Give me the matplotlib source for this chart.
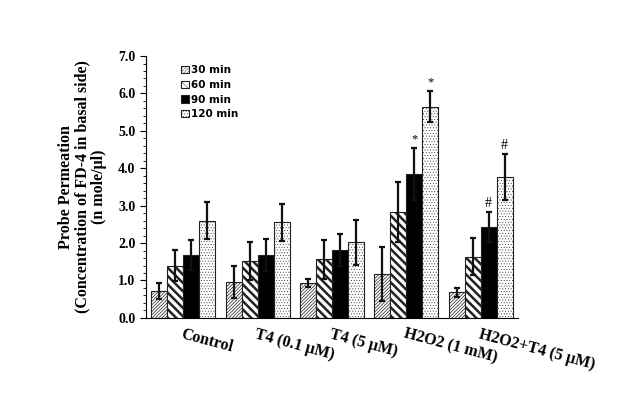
import matplotlib
matplotlib.use('Agg')
import matplotlib.pyplot as plt
import numpy as np
from matplotlib.ticker import MultipleLocator, FormatStrFormatter

groups = ['Control', 'T4 (0.1 \u03bcM)', 'T4 (5 \u03bcM)', 'H2O2 (1 mM)', 'H2O2+T4 (5 \u03bcM)']
times = ['30 min', '60 min', '90 min', '120 min']

# means per time point, one value per group
m30 = [0.72, 0.96, 0.93, 1.17, 0.68]
m60 = [1.40, 1.52, 1.57, 2.82, 1.64]
m90 = [1.68, 1.68, 1.82, 3.85, 2.42]
m120 = [2.60, 2.55, 2.02, 5.65, 3.76]

e30 = [0.21, 0.42, 0.10, 0.72, 0.13]
e60 = [0.41, 0.52, 0.52, 0.80, 0.50]
e90 = [0.41, 0.42, 0.43, 0.70, 0.40]
e120 = [0.50, 0.50, 0.60, 0.42, 0.61]

marks = [(3, 2, '*'), (3, 3, '*'), (4, 2, '#'), (4, 3, '#')]

means = [m30, m60, m90, m120]
errs = [e30, e60, e90, e120]
styles = [
    dict(hatch='//////////', hc='#666666', hlw=0.5, fc='white'),
    dict(hatch='\\\\\\\\', hc='black', hlw=1.8, fc='white'),
    dict(hatch='', hc='black', hlw=1.0, fc='black'),
    dict(hatch='......', hc='#777777', hlw=0.3, fc='white'),
]

plt.rcParams['font.family'] = 'Liberation Serif'
plt.rcParams['font.weight'] = 'bold'

fig = plt.figure(figsize=(6.21, 4.15), dpi=100)
ax = fig.add_axes([0.235, 0.234, 0.599, 0.631])

x = np.arange(len(groups))
w = 0.215
containers = []
for i in range(4):
    pos = x + (i - 1.5) * w
    st = styles[i]
    plt.rcParams['hatch.color'] = st['hc']
    plt.rcParams['hatch.linewidth'] = st['hlw']
    bars = ax.bar(pos, means[i], w, color=st['fc'], edgecolor='#222222',
                  linewidth=0.8, hatch=st['hatch'], label=times[i])
    for b in bars:
        if hasattr(b, 'set_hatch_linewidth'):
            b.set_hatch_linewidth(st['hlw'])
    containers.append(bars)
    ax.errorbar(pos, means[i], yerr=errs[i], fmt='none', ecolor='#111111',
                elinewidth=1.6, capsize=2.5, capthick=1.6)

for g, t, s in marks:
    px = x[g] + (t - 1.5) * w
    top = means[t][g] + errs[t][g]
    ax.text(px, top + 0.06, s, ha='center', va='bottom',
            fontsize=9 if s == '*' else 10, fontweight='normal')

ax.set_xlim(-0.5, 4.5)
ax.set_ylim(0, 7)
ax.yaxis.set_major_locator(MultipleLocator(1))
ax.yaxis.set_minor_locator(MultipleLocator(0.2))
ax.yaxis.set_major_formatter(FormatStrFormatter('%.1f'))
ax.tick_params(axis='y', which='major', length=4, labelsize=10)
ax.tick_params(axis='y', which='minor', length=2)
ax.set_xticks(x)
ax.set_xticklabels(groups, rotation=-15, ha='left', rotation_mode='anchor', fontsize=11.5)
ax.tick_params(axis='x', length=0, pad=6)
for lab in ax.get_yticklabels() + ax.get_xticklabels():
    lab.set_fontweight('bold')
ax.spines['top'].set_visible(False)
ax.spines['right'].set_visible(False)
ax.set_ylabel('Probe Permeation\n(Concentration of FD-4 in basal side)\n(n mole/\u03bcl)',
              fontsize=11.5, fontweight='bold', labelpad=8, linespacing=1.05)

leg = ax.legend(containers, times, loc='upper left', bbox_to_anchor=(0.07, 1.0),
                frameon=False, handlelength=0.7, handleheight=0.7, handletextpad=0.2,
                labelspacing=0.45, prop={'family': 'DejaVu Sans', 'weight': 'bold', 'size': 7.5})

fig.savefig('out.png', dpi=100)
